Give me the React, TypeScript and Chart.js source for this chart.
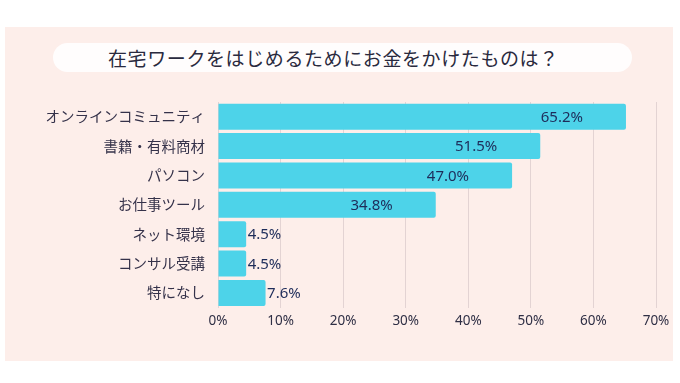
import React, { useEffect, useRef } from "react";
import { Chart, registerables } from "chart.js";

Chart.register(...registerables);

const TITLE = "在宅ワークをはじめるためにお金をかけたものは？";
const categories = [
  "オンラインコミュニティ",
  "書籍・有料商材",
  "パソコン",
  "お仕事ツール",
  "ネット環境",
  "コンサル受講",
  "特になし",
];
const values = [65.2, 51.5, 47.0, 34.8, 4.5, 4.5, 7.6];
const xTicks = [0, 10, 20, 30, 40, 50, 60, 70];

const FONT = "'Noto Sans CJK JP', 'Noto Sans', sans-serif";

const valueLabelPlugin = {
  id: "valueLabels",
  afterDatasetsDraw(chart: any) {
    const ctx = chart.ctx;
    const meta = chart.getDatasetMeta(0);
    ctx.save();
    ctx.font = `15px 'Noto Sans', sans-serif`;
    ctx.fillStyle = "#1e2c5a";
    ctx.textBaseline = "middle";
    meta.data.forEach((bar: any, i: number) => {
      const v = values[i];
      const txt = v.toFixed(1) + "%";
      if (v > 20) {
        ctx.textAlign = "right";
        ctx.fillText(txt, bar.x - 43, bar.y + 1);
      } else {
        ctx.textAlign = "left";
        ctx.fillText(txt, bar.x + 1.5, bar.y + 1);
      }
    });
    ctx.restore();
  },
};

export default function App() {
  const ref = useRef<HTMLCanvasElement>(null);
  useEffect(() => {
    if (!ref.current) return;
    const chart = new Chart(ref.current, {
      type: "bar",
      data: {
        labels: categories,
        datasets: [
          {
            data: values,
            backgroundColor: "#4dd3e9",
            borderRadius: 2,
            categoryPercentage: 1,
            barPercentage: 0.885,
          },
        ],
      },
      options: {
        indexAxis: "y",
        responsive: false,
        animation: false,
        layout: { padding: { top: 102, right: 24, left: 0, bottom: 0 } },
        plugins: { legend: { display: false }, tooltip: { enabled: false }, title: { display: false } },
        scales: {
          x: {
            min: xTicks[0],
            max: xTicks[xTicks.length - 1],
            afterBuildTicks: (s: any) => {
              s.ticks = xTicks.map((v) => ({ value: v }));
            },
            afterFit: (s: any) => {
              s.height = 75.4;
            },
            grid: { color: "#e3d3d3", drawTicks: false, lineWidth: 1 },
            border: { display: false },
            ticks: {
              padding: 5,
              color: "#2f2f45",
              font: { family: "'Noto Sans', sans-serif", size: 13.5 },
              callback: (v: any) => v + "%",
            },
          },
          y: {
            afterFit: (s: any) => {
              s.width = 218;
            },
            grid: { display: false, drawTicks: false },
            border: { display: false },
            ticks: {
              padding: 13,
              color: "#35324a",
              font: { family: FONT, size: 14.5 },
            },
          },
        },
      },
      plugins: [valueLabelPlugin],
    } as any);
    return () => chart.destroy();
  }, []);

  return (
    <div
      style={{
        position: "fixed",
        left: 0,
        top: 0,
        width: 680,
        height: 383,
        background: "#ffffff",
        overflow: "hidden",
      }}
    >
      <div
        style={{
          position: "absolute",
          left: 5,
          top: 27,
          width: 668,
          height: 334,
          background: "#fdeeea",
        }}
      />
      <div
        style={{
          position: "absolute",
          left: 53,
          top: 43,
          width: 579,
          height: 29,
          borderRadius: 15,
          background: "#fffdfd",
        }}
      />
      <div
        style={{
          position: "absolute",
          left: 108,
          top: 43,
          height: 29,
          lineHeight: "29px",
          fontFamily: FONT,
          fontSize: 19,
          letterSpacing: "0.6px",
          color: "#2a2a3e",
          whiteSpace: "nowrap",
        }}
      >
        {TITLE}
      </div>
      <canvas
        ref={ref}
        width={680}
        height={383}
        style={{ position: "absolute", left: 0, top: 0, width: 680, height: 383 }}
      />
    </div>
  );
}
